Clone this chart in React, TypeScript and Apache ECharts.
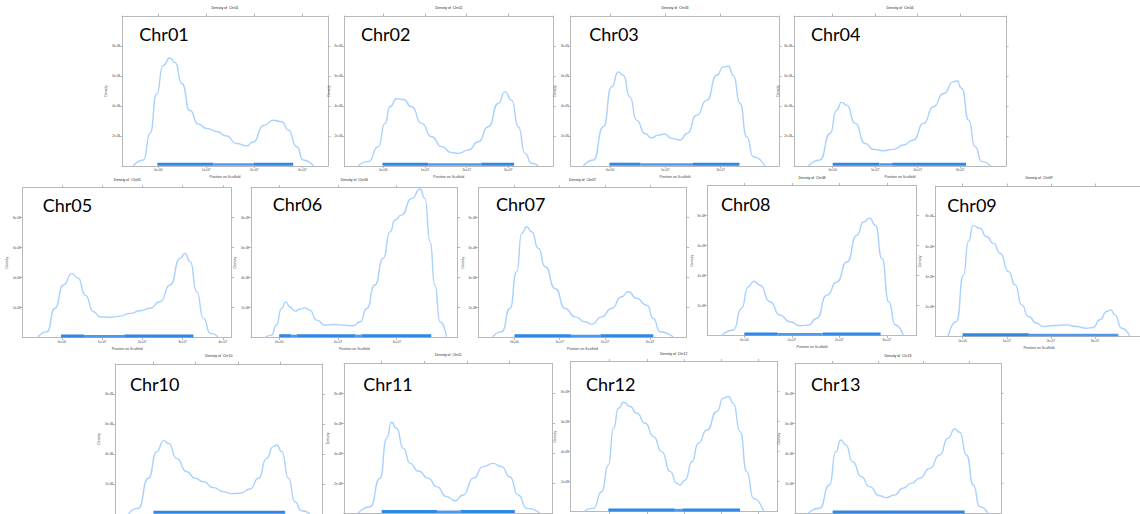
import React, { useEffect, useRef } from "react";
import * as echarts from "echarts";

// ---------- data (x in units of 1e7 bp, density in units of 1e-8) ----------
const CHROMOSOMES = ["Chr01", "Chr02", "Chr03", "Chr04", "Chr05", "Chr06", "Chr07", "Chr08", "Chr09", "Chr10", "Chr11", "Chr12", "Chr13"];

const DENSITY_CHR01 = [[-0.52, 0], [-0.31, 0.4], [-0.17, 2.2], [-0.035, 4.8], [0.1, 6.7], [0.243, 7.2], [0.35, 6.9], [0.49, 5.5], [0.66, 3.7], [0.83, 2.8], [1.01, 2.5], [1.22, 2.3], [1.42, 2.0], [1.63, 1.5], [1.84, 1.35], [1.98, 1.6], [2.19, 2.7], [2.4, 3.05], [2.57, 2.95], [2.71, 2.4], [2.88, 1.3], [3.02, 0.4], [3.23, 0]];
const DENSITY_CHR02 = [[-0.6, 0], [-0.36, 0.29], [-0.12, 1.29], [0.04, 2.84], [0.16, 3.95], [0.32, 4.48], [0.48, 4.43], [0.68, 3.95], [0.92, 2.84], [1.16, 1.95], [1.4, 1.29], [1.64, 0.89], [1.8, 0.84], [2.04, 1.06], [2.28, 1.62], [2.52, 2.62], [2.76, 4.17], [2.92, 4.94], [3.08, 4.39], [3.24, 2.62], [3.4, 0.84], [3.56, 0.18], [3.72, 0]];
const DENSITY_CHR03 = [[-0.48, 0], [-0.3, 0.4], [-0.12, 2.62], [0.03, 5.28], [0.15, 6.27], [0.24, 6.05], [0.36, 4.61], [0.48, 3.06], [0.63, 2.17], [0.75, 1.88], [0.87, 2.06], [0.99, 2.13], [1.11, 1.84], [1.27, 1.73], [1.39, 2.17], [1.57, 3.39], [1.75, 4.39], [1.93, 6.05], [2.05, 6.61], [2.14, 6.65], [2.23, 6.05], [2.35, 4.17], [2.47, 1.95], [2.59, 0.62], [2.8, 0]];
const DENSITY_CHR04 = [[-0.57, 0], [-0.3, 0.4], [-0.06, 2.17], [0.09, 3.72], [0.21, 4.24], [0.33, 4.06], [0.53, 2.84], [0.76, 1.51], [0.96, 1.11], [1.19, 1.02], [1.43, 1.11], [1.67, 1.4], [1.9, 1.73], [2.14, 2.84], [2.37, 3.95], [2.61, 4.83], [2.84, 5.61], [2.92, 5.68], [3.04, 5.17], [3.2, 3.06], [3.35, 1.29], [3.51, 0.29], [3.71, 0]];
const DENSITY_CHR05 = [[-0.6, 0], [-0.37, 0.4], [-0.17, 1.96], [0.04, 3.51], [0.25, 4.27], [0.41, 3.96], [0.58, 2.84], [0.79, 1.73], [0.95, 1.4], [1.2, 1.36], [1.45, 1.44], [1.7, 1.62], [1.95, 1.8], [2.19, 1.96], [2.44, 2.4], [2.69, 3.51], [2.94, 5.29], [3.06, 5.62], [3.19, 5.07], [3.35, 3.07], [3.52, 1.29], [3.69, 0.29], [3.89, 0]];
const DENSITY_CHR06 = [[-0.24, 0], [-0.13, 0.16], [-0.05, 0.82], [0.04, 1.94], [0.11, 2.38], [0.18, 2.05], [0.27, 1.76], [0.35, 1.89], [0.44, 1.98], [0.52, 1.83], [0.64, 1.16], [0.78, 0.82], [0.95, 0.87], [1.12, 0.82], [1.26, 0.78], [1.38, 1.05], [1.49, 1.94], [1.63, 3.5], [1.77, 5.28], [1.89, 7.06], [1.97, 7.84], [2.08, 8.17], [2.26, 9.29], [2.4, 9.91], [2.48, 9.29], [2.57, 6.39], [2.65, 3.5], [2.74, 1.05], [2.85, 0]];
const DENSITY_CHR07 = [[-0.49, 0], [-0.28, 0.38], [-0.1, 1.94], [0.05, 4.39], [0.16, 6.95], [0.27, 7.39], [0.38, 7.06], [0.53, 5.95], [0.68, 4.72], [0.9, 3.27], [1.12, 1.94], [1.34, 1.38], [1.56, 1.05], [1.71, 0.89], [1.93, 1.38], [2.15, 1.94], [2.37, 2.72], [2.52, 3.05], [2.7, 2.61], [2.93, 2.16], [3.07, 1.27], [3.22, 0.38], [3.52, 0]];
const DENSITY_CHR08 = [[-0.48, 0], [-0.23, 0.38], [-0.06, 1.81], [0.08, 3.25], [0.2, 3.63], [0.33, 3.36], [0.54, 2.26], [0.75, 1.37], [0.96, 0.93], [1.17, 0.66], [1.35, 0.71], [1.52, 1.15], [1.74, 2.7], [1.95, 3.58], [2.16, 4.91], [2.37, 6.68], [2.51, 7.57], [2.64, 7.83], [2.76, 7.35], [2.9, 5.13], [3.04, 2.26], [3.18, 0.71], [3.35, 0]];
const DENSITY_CHR09 = [[-0.33, 0], [-0.14, 1.0], [0.02, 4.09], [0.13, 6.31], [0.24, 7.37], [0.39, 7.19], [0.54, 6.64], [0.7, 6.19], [0.85, 5.53], [1.04, 4.31], [1.19, 3.43], [1.34, 2.1], [1.49, 1.33], [1.68, 0.88], [1.83, 0.66], [2.06, 0.73], [2.36, 0.77], [2.58, 0.66], [2.81, 0.55], [2.96, 0.6], [3.11, 1.11], [3.27, 1.66], [3.36, 1.77], [3.45, 1.44], [3.61, 0.55], [3.79, 0]];
const DENSITY_CHR10 = [[-0.59, 0], [-0.36, 0.38], [-0.12, 2.38], [0.08, 4.16], [0.24, 4.89], [0.36, 4.71], [0.55, 3.71], [0.79, 2.82], [0.99, 2.38], [1.18, 2.16], [1.42, 1.76], [1.66, 1.49], [1.85, 1.36], [2.05, 1.38], [2.29, 1.67], [2.49, 2.38], [2.68, 3.71], [2.84, 4.49], [2.92, 4.6], [3.04, 4.16], [3.2, 2.38], [3.35, 0.82], [3.51, 0.22], [3.71, 0]];
const DENSITY_CHR11 = [[-0.55, 0], [-0.27, 0.44], [-0.04, 2.33], [0.12, 5.0], [0.23, 6.07], [0.35, 5.67], [0.51, 4.33], [0.67, 3.33], [0.86, 2.82], [1.1, 2.33], [1.29, 1.78], [1.53, 1.11], [1.72, 0.84], [1.92, 1.22], [2.15, 2.33], [2.39, 3.11], [2.62, 3.33], [2.82, 3.11], [3.01, 2.44], [3.21, 1.22], [3.41, 0.33], [3.72, 0]];
const DENSITY_CHR12 = [[-0.7, 0], [-0.43, 0.22], [-0.21, 1.33], [-0.03, 3.11], [0.11, 5.56], [0.24, 6.89], [0.38, 7.29], [0.55, 7.0], [0.73, 6.56], [0.96, 5.89], [1.18, 5.0], [1.4, 4.0], [1.63, 2.67], [1.8, 1.89], [1.89, 1.78], [2.03, 2.11], [2.21, 3.33], [2.38, 4.56], [2.61, 5.44], [2.88, 6.67], [3.05, 7.56], [3.19, 7.67], [3.32, 7.22], [3.5, 5.33], [3.68, 2.67], [3.86, 0.89], [4.13, 0]];
const DENSITY_CHR13 = [[-0.55, 0], [-0.29, 0.36], [-0.07, 1.91], [0.07, 4.13], [0.18, 4.91], [0.29, 4.58], [0.44, 3.47], [0.63, 2.47], [0.81, 1.8], [1.03, 1.2], [1.18, 1.07], [1.36, 1.24], [1.55, 1.69], [1.73, 2.02], [1.92, 2.36], [2.14, 3.02], [2.36, 3.91], [2.54, 5.02], [2.69, 5.64], [2.8, 5.42], [2.95, 3.91], [3.1, 1.91], [3.24, 0.47], [3.43, 0]];

// rug: stretches of marker positions along the scaffold (1e7 bp): [start, end, 1 = dense | 0 = sparse]
const RUG_CHR01 = [[-0.02, 1.15, 1], [1.15, 1.98, 0], [1.98, 2.81, 1]];
const RUG_CHR02 = [[-0.02, 1.08, 1], [1.08, 2.35, 0], [2.35, 3.14, 1]];
const RUG_CHR03 = [[-0.01, 0.55, 1], [0.55, 1.5, 0], [1.5, 2.34, 1]];
const RUG_CHR04 = [[0, 1.1, 1], [1.1, 1.4, 0], [1.4, 3.14, 1]];
const RUG_CHR05 = [[-0.02, 0.55, 1], [0.55, 1.55, 0], [1.55, 3.27, 1]];
const RUG_CHR06 = [[0, 0.2, 1], [0.2, 0.3, 0], [0.3, 1.3, 1], [1.3, 1.4, 0], [1.4, 2.59, 1]];
const RUG_CHR07 = [[0, 1.25, 1], [1.25, 1.9, 0], [1.9, 3.07, 1]];
const RUG_CHR08 = [[0, 0.7, 1], [0.7, 1.65, 0], [1.65, 2.87, 1]];
const RUG_CHR09 = [[0, 1.5, 1], [1.5, 3.53, 0]];
const RUG_CHR10 = [[0, 3.12, 1]];
const RUG_CHR11 = [[0, 1.3, 1], [1.3, 1.85, 0], [1.85, 3.13, 1]];
const RUG_CHR12 = [[-0.03, 1.75, 1], [1.75, 1.95, 0], [1.95, 3.5, 1]];
const RUG_CHR13 = [[0, 2.91, 1]];

const X_LIMITS = [[-0.756, 3.535], [-0.936, 4.08], [-0.71, 3.06], [-0.91, 4.08], [-0.97, 4.22], [-0.48, 3.04], [-0.8, 3.81], [-0.78, 3.63], [-0.62, 4.08], [-0.91, 4.01], [-0.885, 4.02], [-1.04, 4.49], [-0.83, 3.71]];
const X_TICKS = [[0, 1, 2, 3], [0, 1, 2, 3], [0, 1, 2], [0, 1, 2, 3], [0, 1, 2, 3, 4], [0, 1, 2], [0, 1, 2, 3], [0, 1, 2, 3], [0, 1, 2, 3], [0, 1, 2, 3], [0, 1, 2, 3], [0, 1, 2, 3, 4], [0, 1, 2, 3]];
const Y_TICKS = [2, 4, 6, 8];
const Y_MAX = 10;

const CURVES = [DENSITY_CHR01, DENSITY_CHR02, DENSITY_CHR03, DENSITY_CHR04, DENSITY_CHR05, DENSITY_CHR06, DENSITY_CHR07, DENSITY_CHR08, DENSITY_CHR09, DENSITY_CHR10, DENSITY_CHR11, DENSITY_CHR12, DENSITY_CHR13];
const RUGS = [RUG_CHR01, RUG_CHR02, RUG_CHR03, RUG_CHR04, RUG_CHR05, RUG_CHR06, RUG_CHR07, RUG_CHR08, RUG_CHR09, RUG_CHR10, RUG_CHR11, RUG_CHR12, RUG_CHR13];

// ---------- layout (px): [left, top, right, bottom] of each plot box ----------
const PANEL_BOXES = [
  [122, 16, 328, 166], [344.3, 16, 553.3, 166], [570.7, 16, 779.3, 166], [794, 16, 1006, 166],
  [22.7, 187.7, 231.7, 337.7], [251, 187.7, 457.7, 337.5], [478.3, 187.7, 686.7, 337.5], [707.3, 185.5, 916.7, 335.7], [935.3, 186, 1142.6, 336.5],
  [115, 364, 322.7, 514], [344, 363.3, 552.7, 513.3], [570.7, 361.5, 777, 511.7], [795, 363.5, 1001, 513.7],
];
// panels whose bottom axis text falls outside the picture
const BOTTOM_ROW = [false, false, false, false, false, false, false, false, false, true, true, true, true];
// top-left of the large chromosome names
const NAME_POS = [
  [139.3, 28.3], [361, 28.3], [589.3, 28], [811, 28.3],
  [42.7, 199], [272.7, 198.3], [496, 198.3], [721, 198.3], [947.3, 199],
  [130, 378.3], [363.3, 378.3], [586, 378.3], [811, 378.3],
];

const BOX_COLOR = "#b8b8b8";
const TEXT_COLOR = "#444";
const CURVE_COLOR = "#a9d1ff";
const RUG_COLOR = "#2f87e8";

const fmtX = (v: number) => (v === 0 ? "0e+00" : `${v}e+07`);
const fmtY = (v: number) => `${v}e-08`;

export default function App() {
  const ref = useRef<HTMLDivElement>(null);
  useEffect(() => {
    const chart = echarts.init(ref.current!, null, { renderer: "svg" });
    const grid: any[] = [];
    const xAxis: any[] = [];
    const yAxis: any[] = [];
    const series: any[] = [];
    const graphic: any[] = [];

    CHROMOSOMES.forEach((name, i) => {
      const [l, t, r, b] = PANEL_BOXES[i];
      grid.push({ left: l, top: t, width: r - l, height: b - t, containLabel: false, outerBoundsMode: "none" });
      const [xmin, xmax] = X_LIMITS[i];
      const line = { show: true, onZero: false, lineStyle: { color: BOX_COLOR, width: 1 } };
      const xBase = {
        type: "value", gridIndex: i, min: xmin, max: xmax,
        splitLine: { show: false }, axisLine: line,
        axisTick: { show: true, length: 2.5, inside: false, customValues: X_TICKS[i], lineStyle: { color: BOX_COLOR } },
      };
      const hideBottom = BOTTOM_ROW[i];
      xAxis.push({
        ...xBase, position: "bottom",
        axisLabel: { show: !hideBottom, customValues: X_TICKS[i], formatter: fmtX, fontSize: 3, margin: 2.5, color: TEXT_COLOR },
        name: hideBottom ? "" : "Position on Scaffold", nameLocation: "middle", nameGap: 9,
        nameTextStyle: { fontSize: 3.5, color: TEXT_COLOR },
      });
      xAxis.push({
        ...xBase, position: "top",
        axisLabel: { show: false },
        name: `Density of  ${name}`, nameLocation: "middle", nameGap: 6,
        nameTextStyle: { fontSize: 3.5, color: "#222" },
      });
      const yBase = {
        type: "value", gridIndex: i, min: 0, max: Y_MAX,
        splitLine: { show: false }, axisLine: line,
        axisTick: { show: true, length: 2.5, inside: false, customValues: Y_TICKS, lineStyle: { color: BOX_COLOR } },
      };
      yAxis.push({
        ...yBase, position: "left",
        axisLabel: { show: true, customValues: Y_TICKS, formatter: fmtY, fontSize: 3, margin: 2, color: TEXT_COLOR },
        name: "Density", nameLocation: "middle", nameGap: 12, nameRotate: 90,
        nameTextStyle: { fontSize: 3.5, color: TEXT_COLOR },
      });
      yAxis.push({ ...yBase, position: "right", axisLabel: { show: false } });

      series.push({
        type: "line", xAxisIndex: 2 * i, yAxisIndex: 2 * i,
        data: CURVES[i], smooth: 0.6, smoothMonotone: "x", symbol: "none",
        lineStyle: { color: CURVE_COLOR, width: 1.4 }, clip: false, z: 2,
      });
      series.push({
        type: "custom", xAxisIndex: 2 * i, yAxisIndex: 2 * i,
        data: RUGS[i], clip: false, z: 3,
        renderItem: (_p: any, api: any) => {
          const a = api.coord([api.value(0), 0]);
          const c = api.coord([api.value(1), 0]);
          const dense = api.value(2) === 1;
          const h = dense ? 3 : 2.5;
          return {
            type: "rect",
            shape: { x: a[0], y: a[1] - h - 0.3, width: Math.max(c[0] - a[0], 1), height: h },
            style: { fill: RUG_COLOR, opacity: dense ? 1 : 0.85 },
          };
        },
      });

      const [nx, ny] = NAME_POS[i];
      graphic.push({
        type: "text", x: nx, y: ny - 3.5, z: 10,
        style: { text: name, fontSize: 18, fontFamily: "Lato", fill: "#000", align: "left", verticalAlign: "top" },
      });
    });

    chart.setOption({ animation: false, backgroundColor: "#fff", grid, xAxis, yAxis, series, graphic });
    return () => chart.dispose();
  }, []);
  return <div ref={ref} style={{ position: "fixed", left: 0, top: 0, width: 1140, height: 514 }} />;
}
